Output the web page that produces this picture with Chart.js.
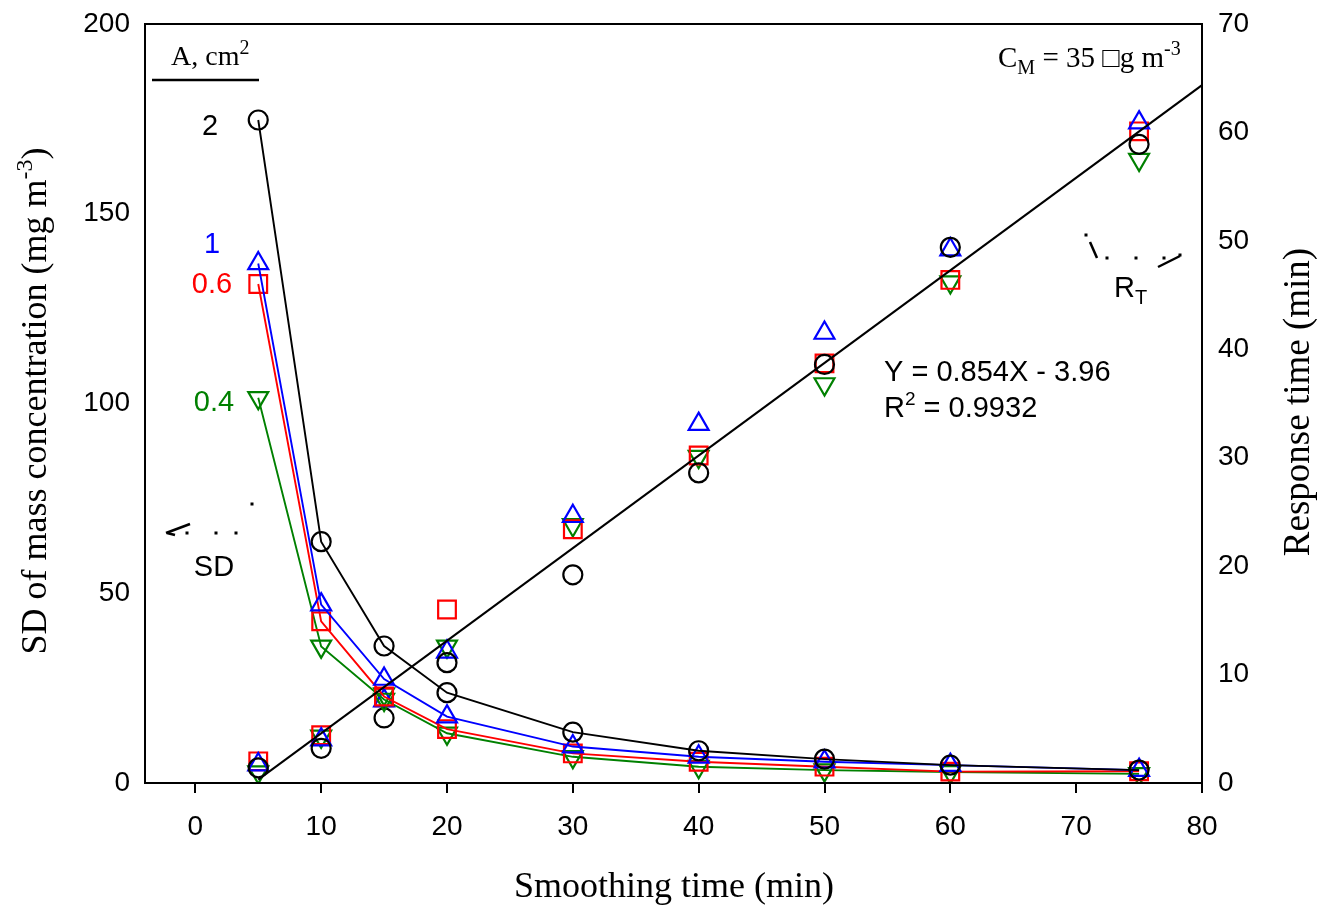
<!DOCTYPE html>
<html><head><meta charset="utf-8">
<script src="https://cdn.jsdelivr.net/npm/chart.js@4.4.0/dist/chart.umd.min.js"></script>
<style>html,body{margin:0;padding:0;background:#fff;} #wrap{width:1318px;height:906px;position:relative;}</style>
</head><body><div id="wrap"><canvas id="c" width="1318" height="906"></canvas></div>
<script>
// ---- data ----
const smoothTime = [5, 10, 15, 20, 30, 40, 50, 60, 75];
// SD of mass concentration (mg m-3), left axis
const sdA2  = [174.7, 63.6, 36.1, 23.8, 13.4, 8.5, 6.3, 4.7, 3.4];
const sdA1  = [136.9, 47.0, 27.4, 17.5, 9.6, 6.9, 5.6, 4.7, 3.4];
const sdA06 = [131.5, 42.6, 22.8, 14.2, 7.8, 5.6, 4.3, 3.0, 3.1];
const sdA04 = [101.5, 36.0, 22.0, 13.1, 6.9, 4.3, 3.4, 2.9, 2.4];
// Response time (min), right axis
const rtA2  = [1.4, 3.2, 6.0, 11.1, 19.2, 28.6, 38.6, 49.4, 58.9];
const rtA1  = [1.7, 4.0, 7.6, 12.1, 24.6, 33.1, 41.5, 49.2, 60.9];
const rtA06 = [2.0, 4.4, 7.9, 16.0, 23.4, 30.2, 38.7, 46.4, 60.1];
const rtA04 = [1.0, 4.3, 8.2, 12.6, 23.8, 30.1, 36.8, 46.2, 57.5];
// regression line Y = 0.854X - 3.96 (end points)
const fitX = [5, 80];
const fitY = [0.31, 64.36];
// tick labels
const xTicks = [0, 10, 20, 30, 40, 50, 60, 70, 80];
const yLeftTicks = [0, 50, 100, 150, 200];
const yRightTicks = [0, 10, 20, 30, 40, 50, 60, 70];

const pts = (xs, ys) => xs.map((x, i) => ({x, y: ys[i]}));
const SANS = '"Liberation Sans", Arial, sans-serif';
const SERIF = '"Liberation Serif", "Times New Roman", serif';

function sdSet(data, color, style, radius, rot) {
  return {data: pts(smoothTime, data), yAxisID: 'y', showLine: true, borderColor: color, borderWidth: 1.9,
    pointStyle: style, pointRadius: radius, pointRotation: rot || 0, pointBorderColor: color,
    pointBorderWidth: 2.2, pointBackgroundColor: 'rgba(0,0,0,0)', fill: false, tension: 0};
}
function rtSet(data, color, style, radius, rot) {
  return {data: pts(smoothTime, data), yAxisID: 'y2', showLine: false, borderColor: color,
    pointStyle: style, pointRadius: radius, pointRotation: rot || 0, pointBorderColor: color,
    pointBorderWidth: 2.2, pointBackgroundColor: 'rgba(0,0,0,0)'};
}

function rich(ctx, x, y, parts, family, size, align, supScale) {
  const ss = supScale || 0.62;
  const fonts = parts.map(p => (p[1] ? Math.round(size * ss) : size) + 'px ' + family);
  let total = 0;
  parts.forEach((p, i) => { ctx.font = fonts[i]; total += ctx.measureText(p[0]).width; });
  let cx = align === 'center' ? x - total / 2 : (align === 'right' ? x - total : x);
  ctx.textAlign = 'left'; ctx.textBaseline = 'alphabetic';
  parts.forEach((p, i) => {
    ctx.font = fonts[i];
    const dy = p[1] === 1 ? -size * 0.4 : (p[1] === -1 ? size * 0.25 : 0);
    ctx.fillText(p[0], cx, y + dy);
    cx += ctx.measureText(p[0]).width;
  });
}

const annot = {
  id: 'annot',
  afterDraw(chart) {
    const ctx = chart.ctx, a = chart.chartArea;
    ctx.save();
    // frame
    ctx.strokeStyle = '#000'; ctx.lineWidth = 2;
    ctx.strokeRect(a.left, a.top, a.right - a.left, a.bottom - a.top);
    ctx.fillStyle = '#000';
    // axis titles
    rich(ctx, 674, 897, [['Smoothing time (min)', 0]], SERIF, 36, 'center');
    ctx.save(); ctx.translate(46, 401); ctx.rotate(-Math.PI / 2);
    rich(ctx, 0, 0, [['SD of mass concentration (mg m', 0], ['-3', 1], [')', 0]], SERIF, 36, 'center', 0.66);
    ctx.restore();
    ctx.save(); ctx.translate(1309, 402); ctx.rotate(-Math.PI / 2);
    rich(ctx, 0, 0, [['Response time (min)', 0]], SERIF, 37, 'center');
    ctx.restore();
    // legend-like labels
    rich(ctx, 171, 65, [['A, cm', 0], ['2', 1]], SERIF, 28, 'left', 0.7);
    ctx.lineWidth = 2.5; ctx.beginPath(); ctx.moveTo(152, 80); ctx.lineTo(259, 80); ctx.stroke();
    rich(ctx, 998, 67, [['C', 0], ['M', -1], [' = 35 \u25A1g m', 0], ['-3', 1]], SERIF, 29, 'left', 0.7);
    ctx.fillStyle = '#000'; rich(ctx, 210, 135, [['2', 0]], SANS, 29, 'center');
    ctx.fillStyle = '#0000ff'; rich(ctx, 212, 253, [['1', 0]], SANS, 29, 'center');
    ctx.fillStyle = '#ff0000'; rich(ctx, 212, 293, [['0.6', 0]], SANS, 29, 'center');
    ctx.fillStyle = '#008000'; rich(ctx, 214, 411, [['0.4', 0]], SANS, 29, 'center');
    ctx.fillStyle = '#000';
    rich(ctx, 214, 576, [['SD', 0]], SANS, 29, 'center');
    rich(ctx, 1114, 297, [['R', 0], ['T', -1]], SANS, 29, 'left', 0.7);
    rich(ctx, 884, 381, [['Y = 0.854X - 3.96', 0]], SANS, 29, 'left');
    rich(ctx, 884, 417, [['R', 0], ['2', 1], [' = 0.9932', 0]], SANS, 29, 'left', 0.66);
    // broken arrow fragments
    ctx.lineWidth = 2.5;
    const seg = (x1, y1, x2, y2) => { ctx.beginPath(); ctx.moveTo(x1, y1); ctx.lineTo(x2, y2); ctx.stroke(); };
    const dot = (x, y) => ctx.fillRect(x - 1.5, y - 1.5, 3, 3);
    seg(166, 533, 190, 524); seg(167, 533, 175, 535);
    dot(187, 533); dot(216, 533); dot(236, 533); dot(252, 504);
    dot(1086, 235); seg(1090, 242, 1097, 258);
    dot(1107, 258); dot(1136, 258); dot(1164, 258);
    seg(1158, 267, 1180, 256); dot(1180, 255);
    ctx.restore();
  }
};

const fixY = w => s => { s.width = w; s.paddingTop = 0; s.paddingBottom = 0; };

new Chart(document.getElementById('c'), {
  type: 'scatter',
  data: {
    datasets: [
      {data: pts(fitX, fitY), yAxisID: 'y2', showLine: true, borderColor: '#000', borderWidth: 2, pointRadius: 0, fill: false},
      sdSet(sdA2, '#000000', 'circle', 9.5),
      sdSet(sdA1, '#0000ff', 'triangle', 11.5),
      sdSet(sdA06, '#ff0000', 'rect', 12.5),
      sdSet(sdA04, '#008000', 'triangle', 11.5, 180),
      rtSet(rtA2, '#000000', 'circle', 9.5),
      rtSet(rtA1, '#0000ff', 'triangle', 11.5),
      rtSet(rtA06, '#ff0000', 'rect', 12.5),
      rtSet(rtA04, '#008000', 'triangle', 11.5, 180)
    ]
  },
  options: {
    responsive: false, animation: false, devicePixelRatio: 1,
    layout: {padding: {top: 24, left: 0, right: 0, bottom: 0}},
    plugins: {legend: {display: false}, tooltip: {enabled: false}},
    scales: {
      x: {
        type: 'linear', position: 'bottom', min: -4, max: 80,
        afterBuildTicks: s => { s.ticks = xTicks.map(v => ({value: v})); },
        afterFit: s => { s.height = 123; s.paddingLeft = 0; s.paddingRight = 0; },
        grid: {drawOnChartArea: false, drawTicks: true, tickLength: 10, color: '#000', lineWidth: 2},
        border: {display: true, color: '#000', width: 2},
        ticks: {color: '#000', font: {family: SANS, size: 28}, padding: 17, maxRotation: 0}
      },
      y: {
        type: 'linear', position: 'left', min: 0, max: 200,
        afterBuildTicks: s => { s.ticks = yLeftTicks.map(v => ({value: v})); },
        afterFit: fixY(145),
        grid: {drawOnChartArea: false, drawTicks: false},
        border: {display: true, color: '#000', width: 2},
        ticks: {color: '#000', font: {family: SANS, size: 28}, padding: 15}
      },
      y2: {
        type: 'linear', position: 'right', min: 0, max: 70,
        afterBuildTicks: s => { s.ticks = yRightTicks.map(v => ({value: v})); },
        afterFit: fixY(116),
        grid: {drawOnChartArea: false, drawTicks: false},
        border: {display: true, color: '#000', width: 2},
        ticks: {color: '#000', font: {family: SANS, size: 28}, padding: 16}
      }
    }
  },
  plugins: [annot]
});
</script>
</body></html>
